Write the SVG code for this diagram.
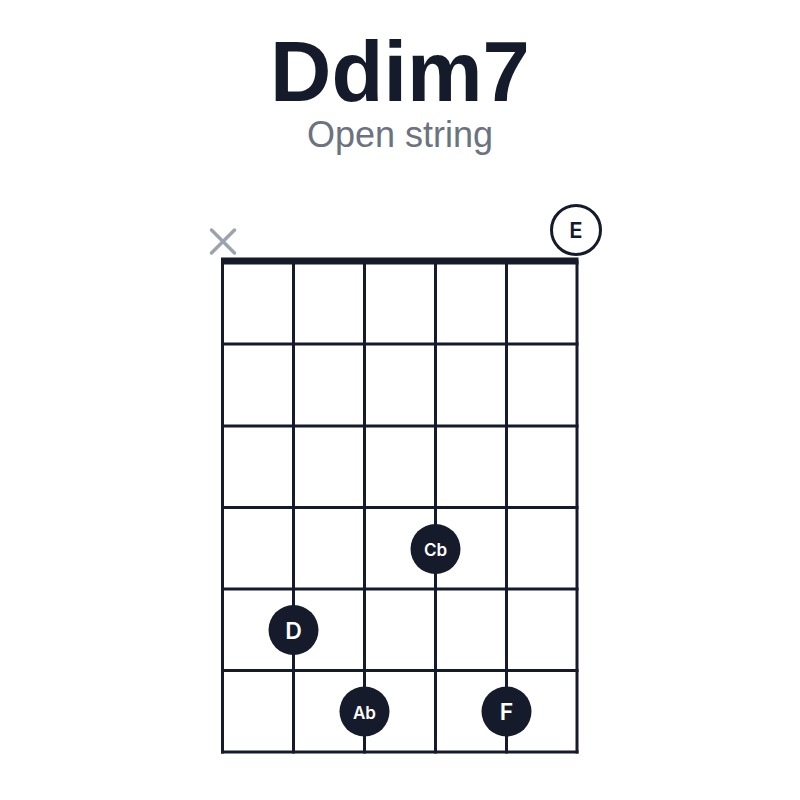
<svg xmlns="http://www.w3.org/2000/svg" width="800" height="800" viewBox="0 0 800 800">
<style>
.grid line{stroke:#151b2b;stroke-width:3;stroke-linecap:square}
.dot circle{fill:#151b2b}
.dot text{fill:#ffffff;font-family:Inter,"Liberation Sans",Arial,sans-serif;font-weight:600;text-anchor:middle;dominant-baseline:central}
</style>
<rect width="800" height="800" fill="#ffffff"/>
<text x="400" y="101" font-family="Liberation Sans,Arial,sans-serif" font-weight="bold" font-size="85" fill="#151b2b" text-anchor="middle">Ddim7</text>
<text x="400" y="147" font-family="Liberation Sans,Arial,sans-serif" font-size="36" fill="#6b7280" text-anchor="middle">Open string</text>
<g id="connectors" class="grid">
<line x1="222.5" y1="262" x2="222.5" y2="752"/>
<line x1="293.5" y1="262" x2="293.5" y2="752"/>
<line x1="364.5" y1="262" x2="364.5" y2="752"/>
<line x1="435.5" y1="262" x2="435.5" y2="752"/>
<line x1="506.5" y1="262" x2="506.5" y2="752"/>
<line x1="577" y1="262" x2="577" y2="752"/>
<line x1="222.5" y1="344" x2="577" y2="344"/>
<line x1="222.5" y1="426" x2="577" y2="426"/>
<line x1="222.5" y1="507.5" x2="577" y2="507.5"/>
<line x1="222.5" y1="589" x2="577" y2="589"/>
<line x1="222.5" y1="670.5" x2="577" y2="670.5"/>
<line x1="222.5" y1="752" x2="577" y2="752"/>
<rect x="221" y="257.5" width="357.5" height="7" fill="#151b2b"/>
</g>
<g id="mute">
<path d="M211.5 230 L234.5 253 M234.5 230 L211.5 253" stroke="#9ca3af" stroke-width="3.5" stroke-linecap="round" fill="none"/>
</g>
<g id="open-E">
<circle cx="576" cy="230" r="24.5" fill="#ffffff" stroke="#151b2b" stroke-width="3"/>
<text x="576" y="229.5" font-family="Inter,Liberation Sans,Arial,sans-serif" font-weight="600" font-size="22" fill="#151b2b" text-anchor="middle" dominant-baseline="central">E</text>
</g>
<g id="note-Cb" class="dot"><circle cx="435.5" cy="549" r="25"/><text x="435.5" y="550" font-size="17">Cb</text></g>
<g id="note-D" class="dot"><circle cx="293.5" cy="630" r="25"/><text x="293.5" y="630.5" font-size="23">D</text></g>
<g id="note-Ab" class="dot"><circle cx="364.5" cy="711.5" r="25"/><text x="364.5" y="712.5" font-size="17">Ab</text></g>
<g id="note-F" class="dot"><circle cx="506.5" cy="711.5" r="25"/><text x="506.5" y="712" font-size="23">F</text></g>
</svg>
